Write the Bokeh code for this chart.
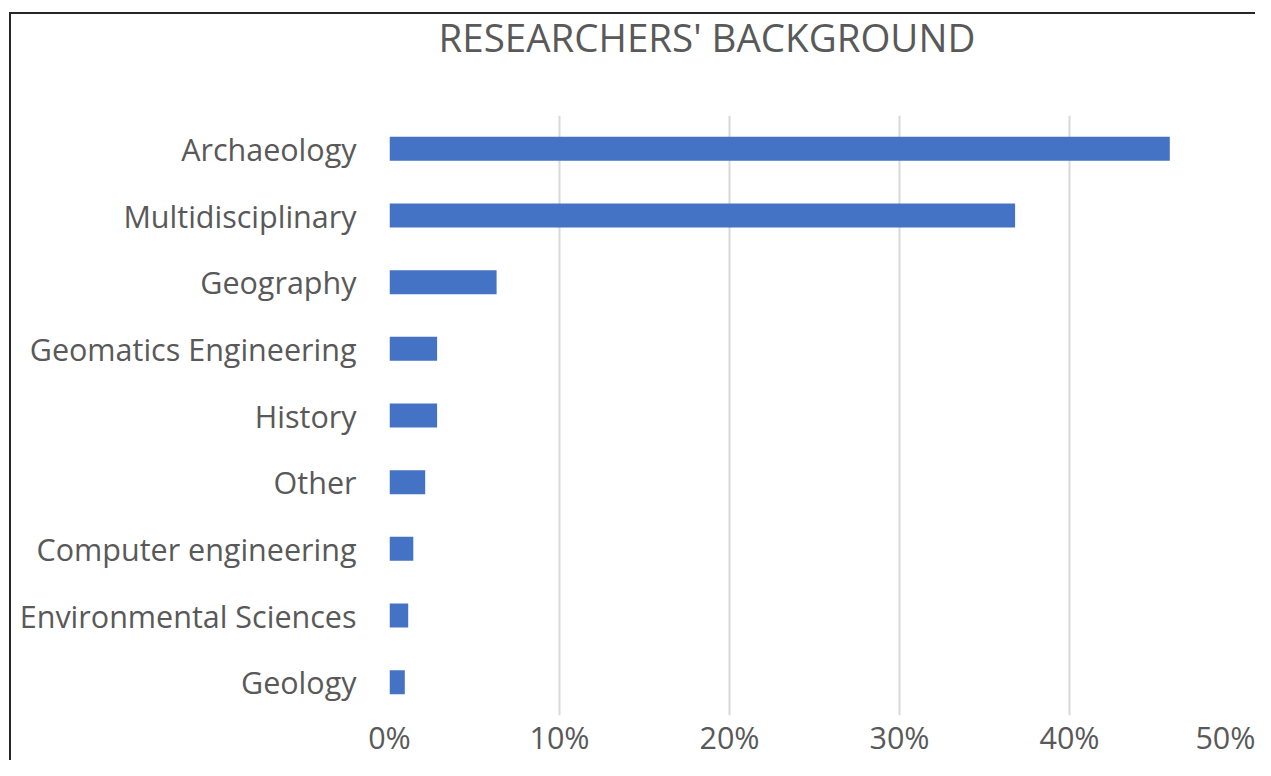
from bokeh.plotting import figure
from bokeh.models import FactorRange, Range1d, FixedTicker, PrintfTickFormatter, LinearAxis
from bokeh.embed import file_html
from bokeh.resources import INLINE

categories = ["Archaeology", "Multidisciplinary", "Geography", "Geomatics Engineering",
              "History", "Other", "Computer engineering", "Environmental Sciences", "Geology"]
shares = [45.9, 36.8, 6.3, 2.8, 2.8, 2.1, 1.4, 1.1, 0.9]
tick_values = [0, 10, 20, 30, 40, 50]
title_text = "RESEARCHERS' BACKGROUND"

FONT = "Open Sans"
GREY = "#595959"

p = figure(width=1255, height=760, output_backend="svg", toolbar_location=None,
           y_range=FactorRange(factors=categories[::-1], range_padding=0),
           x_range=Range1d(0, 50),
           min_border_left=389, min_border_right=16, min_border_top=115, min_border_bottom=43)

p.hbar(y=categories, right=shares, left=0, height=0.36, fill_color="#4472C4", line_color=None)

xa = p.below[0]
ya = p.left[0]

# white, label-less spacer axis between the frame and the title
spacer = LinearAxis(ticker=FixedTicker(ticks=[25]), major_tick_out=41, major_tick_in=0,
                    axis_line_color=None, major_tick_line_color="white",
                    minor_tick_line_color=None, minor_tick_out=0,
                    major_label_overrides={25: ""},
                    major_label_text_font_size="0px", major_label_standoff=0)
p.add_layout(spacer, "above")

p.title.text = title_text
p.title.text_font = FONT
p.title.text_font_size = "38.5px"
p.title.text_font_style = "normal"
p.title.text_color = GREY
p.title.align = "left"
p.title.offset = 49
p.title.vertical_align = "top"
p.title.standoff = 20

p.outline_line_color = None
p.background_fill_color = None
p.border_fill_color = None

p.ygrid.grid_line_color = None
p.xgrid.grid_line_color = "#d9d9d9"
p.xgrid.grid_line_width = 2
xa.ticker = FixedTicker(ticks=tick_values)
xa.formatter = PrintfTickFormatter(format="%d%%")

for ax in (xa, ya):
    ax.axis_line_color = None
    ax.major_tick_line_color = None
    ax.minor_tick_line_color = None
    ax.major_tick_out = 0
    ax.major_tick_in = 0
    ax.minor_tick_out = 0
    ax.minor_tick_in = 0
    ax.major_label_text_font = FONT
    ax.major_label_text_font_size = "30.5px"
    ax.major_label_text_color = GREY

ya.major_label_standoff = 33
xa.major_label_standoff = 0

p.styles = {
    "background-color": "white",
    "background-image": "linear-gradient(#262626, #262626), linear-gradient(#262626, #262626)",
    "background-position": "9px 12px, 9px 12px",
    "background-size": "100% 2px, 2px 100%",
    "background-repeat": "no-repeat, no-repeat",
}

open("out.html", "w").write(file_html(p, INLINE))
